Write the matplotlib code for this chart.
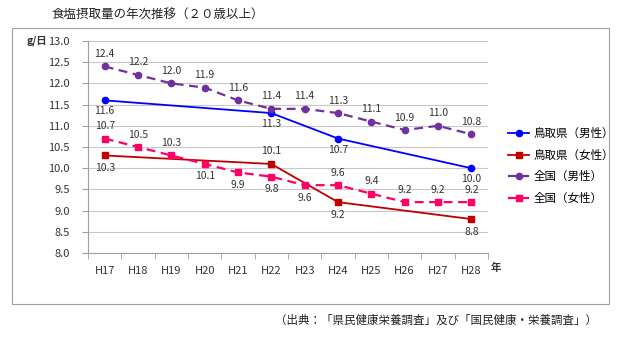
import matplotlib
matplotlib.use('Agg')
import matplotlib.pyplot as plt
from matplotlib.patches import Rectangle
import numpy as np

plt.rcParams['font.family'] = ['Noto Sans CJK JP', 'DejaVu Sans']

# data
years = ['H17', 'H18', 'H19', 'H20', 'H21', 'H22', 'H23', 'H24', 'H25', 'H26', 'H27', 'H28']
tottori_idx = [0, 5, 7, 11]
tottori_male = [11.6, 11.3, 10.7, 10.0]
tottori_female = [10.3, 10.1, 9.2, 8.8]
national_male = [12.4, 12.2, 12.0, 11.9, 11.6, 11.4, 11.4, 11.3, 11.1, 10.9, 11.0, 10.8]
national_female = [10.7, 10.5, 10.3, 10.1, 9.9, 9.8, 9.6, 9.6, 9.4, 9.2, 9.2, 9.2]

# label side: 1 above, -1 below
tm_side = [-1, -1, -1, -1]
tf_side = [-1, 1, -1, -1]
nm_side = [1] * 12
nf_side = [1, 1, 1, -1, -1, -1, -1, 1, 1, 1, 1, 1]

fig = plt.figure(figsize=(6.2, 3.38), dpi=100)
fig.patches.append(Rectangle((12 / 620, 1 - 304 / 338), 597 / 620, 276 / 338,
                             transform=fig.transFigure, fill=False,
                             edgecolor='#a0a0a0', linewidth=0.8))
ax = fig.add_axes([88 / 620, 1 - 253 / 338, 400 / 620, 212 / 338])

x = np.arange(len(years))
tx = x[tottori_idx]

ax.plot(tx, tottori_male, color='#0000ff', lw=1.3, marker='o', ms=4.5, label='鳥取県（男性）')
ax.plot(tx, tottori_female, color='#c00000', lw=1.3, marker='s', ms=4.5, label='鳥取県（女性）')
ax.plot(x, national_male, color='#7030a0', lw=1.6, ls=(0, (4, 2.5)), marker='o', ms=4.5, label='全国（男性）')
ax.plot(x, national_female, color='#ff0066', lw=1.6, ls=(0, (4, 2.5)), marker='s', ms=4.5, label='全国（女性）')

def put_labels(xs, ys, sides, off=9.0):
    for xi, yi, s in zip(xs, ys, sides):
        ax.annotate(f'{yi:.1f}', (xi, yi), xytext=(0, off * s), textcoords='offset points',
                    ha='center', va='center', fontsize=7.5, color='#333333')

put_labels(tx, tottori_male, tm_side, off=8.0)
put_labels(tx, tottori_female, tf_side)
put_labels(x, national_male, nm_side)
put_labels(x, national_female, nf_side)

ax.set_xlim(-0.5, len(years) - 0.5)
ax.set_ylim(8.0, 13.0)
ax.set_yticks(np.arange(8.0, 13.01, 0.5))
ax.set_yticklabels([f'{v:.1f}' for v in np.arange(8.0, 13.01, 0.5)])
ax.set_xticks(x)
ax.set_xticklabels(years)
ax.set_xticks(np.arange(-0.5, len(years), 1), minor=True)
ax.tick_params(axis='x', which='major', length=0, pad=9, labelsize=8, labelcolor='#333333')
ax.tick_params(axis='x', which='minor', length=4, color='#a0a0a0')
ax.tick_params(axis='y', length=4, color='#a0a0a0', labelsize=8, labelcolor='#333333', pad=9)
ax.grid(axis='y', color='#c8c8c8', lw=0.8)
ax.set_axisbelow(True)
for s in ['top', 'right']:
    ax.spines[s].set_visible(False)
for s in ['left', 'bottom']:
    ax.spines[s].set_color('#a0a0a0')
    ax.spines[s].set_linewidth(0.8)

fig.text(27 / 620, 1 - 41 / 338, 'g/日', fontsize=7.5, fontweight='bold', va='center', ha='left', color='#333333')
fig.text(491 / 620, 1 - 268 / 338, '年', fontsize=7.5, fontweight='bold', va='center', ha='left', color='#333333')
fig.text(52 / 620, 1 - 15 / 338, '食塩摂取量の年次推移（２０歳以上）', fontsize=9, va='center', ha='left', color='#222222')
fig.text(597 / 620, 1 - 320 / 338, '（出典：「県民健康栄養調査」及び「国民健康・栄養調査」）',
         fontsize=8.3, va='center', ha='right', color='#222222')

leg = ax.legend(loc='center left', bbox_to_anchor=(498 / 620, 1 - 166 / 338),
                bbox_transform=fig.transFigure, frameon=False, fontsize=8.3,
                handlelength=1.8, labelspacing=0.75, handletextpad=0.4)

fig.savefig('out.png', dpi=100)
